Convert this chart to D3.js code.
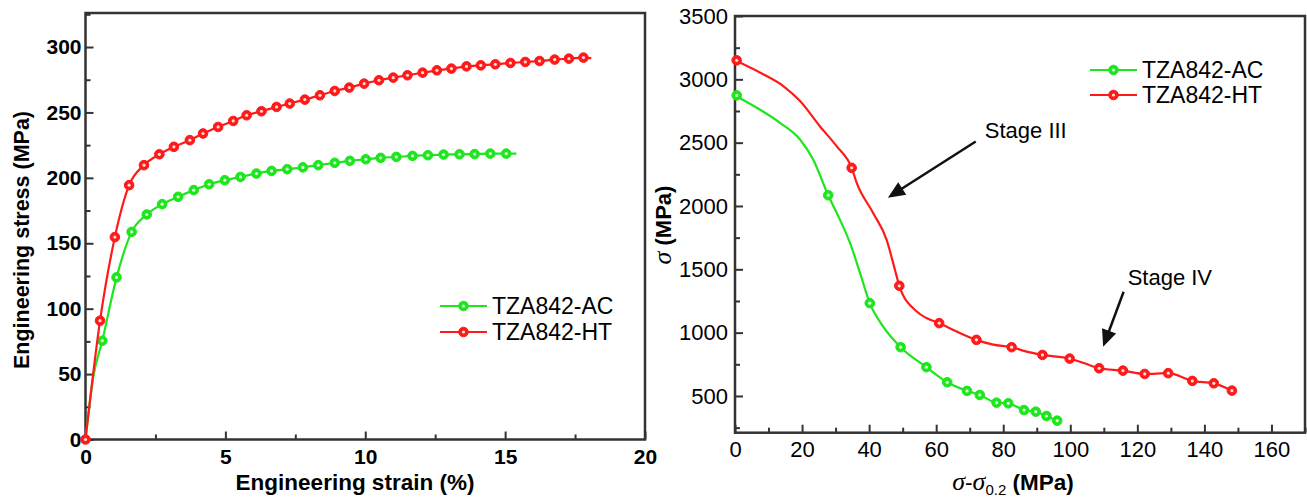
<!DOCTYPE html>
<html>
<head>
<meta charset="utf-8">
<script src="https://cdn.jsdelivr.net/npm/d3@7"></script>
<style>
  body { margin: 0; background: #fff; }
  text { font-family: "Liberation Sans", Arial, sans-serif; }
</style>
</head>
<body>
<script>
// ---- data: left panel (engineering stress-strain) ----
var acStrain = [0, 0.28, 0.6, 1.11, 1.65, 2.19, 2.74, 3.31, 3.87, 4.42, 4.98, 5.54, 6.11, 6.65, 7.21, 7.77, 8.32, 8.91, 9.45, 10.02, 10.55, 11.11, 11.69, 12.24, 12.8, 13.37, 13.91, 14.47, 15.04, 15.4];
var acStress = [0, 48, 75.5, 123.9, 158.7, 172, 179.9, 185.5, 190.6, 195.1, 198.2, 200.7, 203.3, 205.3, 206.6, 208, 209.7, 211.5, 213, 214.2, 215.3, 216, 216.8, 217.3, 217.8, 218, 218.2, 218.5, 218.5, 218.5];
var acMarked = [0, 0, 1, 1, 1, 1, 1, 1, 1, 1, 1, 1, 1, 1, 1, 1, 1, 1, 1, 1, 1, 1, 1, 1, 1, 1, 1, 1, 1, 0];

var htStrain = [0, 0.52, 1.05, 1.56, 2.09, 2.64, 3.16, 3.73, 4.2, 4.74, 5.28, 5.76, 6.29, 6.83, 7.3, 7.84, 8.38, 8.91, 9.43, 9.96, 10.49, 11.0, 11.51, 12.05, 12.56, 13.08, 13.62, 14.13, 14.65, 15.19, 15.72, 16.23, 16.77, 17.28, 17.8, 18.08];
var htStress = [0, 90.8, 154.7, 194.4, 209.7, 218, 223.7, 228.8, 233.9, 238.9, 243.5, 247.8, 250.9, 254.2, 256.8, 259.8, 263.1, 266.4, 269, 272, 274.6, 276.6, 278.4, 280.4, 282.2, 283.5, 285.2, 286, 286.8, 287.8, 288.6, 289.3, 290.4, 291.1, 291.9, 291.5];
var htMarked = [1, 1, 1, 1, 1, 1, 1, 1, 1, 1, 1, 1, 1, 1, 1, 1, 1, 1, 1, 1, 1, 1, 1, 1, 1, 1, 1, 1, 1, 1, 1, 1, 1, 1, 1, 0];

var leftXTicks = [0, 5, 10, 15, 20];
var leftXMinor = [2.5, 7.5, 12.5, 17.5];
var leftYTicks = [0, 50, 100, 150, 200, 250, 300];
var leftYMinor = [25, 75, 125, 175, 225, 275, 325];

// ---- data: right panel (sigma vs sigma - sigma0.2) ----
var acLine = [[0, 2873], [6.5, 2776], [13.4, 2657], [19.4, 2525], [23.3, 2367], [27.8, 2085], [31.3, 1892], [34.3, 1708], [37.3, 1470], [40.2, 1233], [44.2, 1048], [49.4, 885], [57.1, 727], [63.3, 608], [69.2, 540], [73.0, 508], [78.0, 447], [81.5, 442], [86.2, 389], [89.7, 376], [92.9, 342], [96.1, 305]];
var acMarkers = [[0.5, 2873], [27.8, 2085], [40.2, 1233], [49.4, 885], [57.1, 727], [63.3, 608], [69.2, 540], [73.0, 508], [78.0, 447], [81.5, 442], [86.2, 389], [89.7, 376], [92.9, 342], [96.1, 305]];

var htLine = [[0, 3150], [8.4, 3040], [14.4, 2947], [19.4, 2828], [25.3, 2630], [30.3, 2472], [34.8, 2301], [36.3, 2183], [41.2, 1945], [45.2, 1734], [47.7, 1497], [49.0, 1370], [54.2, 1167], [57.1, 1115], [60.9, 1075], [66.1, 1009], [72.0, 943], [77.0, 905], [82.5, 885], [87.0, 850], [91.7, 824], [99.8, 795], [104.0, 760], [108.6, 719], [115.7, 700], [122.2, 674], [129.2, 680], [136.4, 619], [142.8, 600], [148.2, 542]];
var htMarkers = [[0.5, 3150], [34.8, 2301], [49.0, 1370], [60.9, 1075], [72.0, 943], [82.5, 885], [91.7, 824], [99.8, 795], [108.6, 719], [115.7, 700], [122.2, 674], [129.2, 680], [136.4, 619], [142.8, 600], [148.2, 542]];

var rightXTicks = [0, 20, 40, 60, 80, 100, 120, 140, 160];
var rightXMinor = [10, 30, 50, 70, 90, 110, 130, 150, 170];
var rightYTicks = [500, 1000, 1500, 2000, 2500, 3000, 3500];
var rightYMinor = [250, 750, 1250, 1750, 2250, 2750, 3250];

// annotations, in data units: [textX, textY, fromX, fromY, toX, toY]
var stageLabels = ['Stage III', 'Stage IV'];
var stageArrows = [[74.5, 2533, 71.8, 2509, 45.6, 2066], [117.1, 1378, 115.9, 1323, 109.8, 888]];

var seriesNames = ['TZA842-AC', 'TZA842-HT'];
var green = '#1ee61e', red = '#ff1a1a';

var svg = d3.select('body').append('svg')
  .attr('width', 1307)
  .attr('height', 501);

// frame + inward ticks for one panel
function drawFrame(x, y, xt, xm, yt, ym, opts) {
  var g = svg.append('g');
  var x0 = x.range()[0], x1 = x.range()[1];
  var y0 = y.range()[0], y1 = y.range()[1];
  var fmt = d3.format('d');

  g.append('g').attr('transform', 'translate(0,' + y0 + ')')
    .call(d3.axisBottom(x).tickValues(xt).tickFormat(fmt).tickSizeInner(-8).tickSizeOuter(0).tickPadding(opts.xPad));
  g.append('g').attr('transform', 'translate(0,' + y0 + ')')
    .call(d3.axisBottom(x).tickValues(xm).tickSizeInner(-5).tickSizeOuter(0).tickFormat(''));
  g.append('g').attr('transform', 'translate(' + x0 + ',0)')
    .call(d3.axisLeft(y).tickValues(yt).tickFormat(fmt).tickSizeInner(-8).tickSizeOuter(0).tickPadding(opts.yPad));
  g.append('g').attr('transform', 'translate(' + x0 + ',0)')
    .call(d3.axisLeft(y).tickValues(ym).tickSizeInner(-5).tickSizeOuter(0).tickFormat(''));

  g.selectAll('.domain').remove();
  g.selectAll('.tick line').attr('stroke', '#333').attr('stroke-width', 2);
  g.selectAll('.tick text')
    .attr('fill', '#000')
    .attr('font-family', '"Liberation Sans", Arial, sans-serif')
    .attr('font-size', opts.fontSize)
    .attr('font-weight', opts.bold ? 'bold' : 'normal');

  g.append('rect')
    .attr('x', x0).attr('y', y1)
    .attr('width', x1 - x0).attr('height', y0 - y1)
    .attr('fill', 'none')
    .attr('stroke', '#333')
    .attr('stroke-width', 2.5);
  return g;
}

function drawSeries(g, pts, marks, color, x, y, curve) {
  var line = d3.line()
    .x(function(d) { return x(d[0]); })
    .y(function(d) { return y(d[1]); })
    .curve(curve);
  g.append('path')
    .attr('d', line(pts))
    .attr('fill', 'none')
    .attr('stroke', color)
    .attr('stroke-width', 2.2);
  drawMarkers(g, marks.map(function(d) { return [x(d[0]), y(d[1])]; }), color);
}

function drawMarkers(g, pix, color) {
  g.selectAll(null).data(pix).enter().append('circle')
    .attr('cx', function(d) { return d[0]; })
    .attr('cy', function(d) { return d[1]; })
    .attr('r', 4.8)
    .attr('fill', color)
    .attr('stroke', color)
    .attr('stroke-width', 1);
  g.selectAll(null).data(pix).enter().append('circle')
    .attr('cx', function(d) { return d[0]; })
    .attr('cy', function(d) { return d[1]; })
    .attr('r', 1.6)
    .attr('fill', '#fff')
    .attr('opacity', 0.85);
}

function drawLegend(x, y, color, label, fontSize) {
  svg.append('line')
    .attr('x1', x).attr('x2', x + 47)
    .attr('y1', y).attr('y2', y)
    .attr('stroke', color).attr('stroke-width', 2.2);
  drawMarkers(svg, [[x + 23.5, y]], color);
  svg.append('text')
    .attr('x', x + 52).attr('y', y + 8)
    .attr('font-size', fontSize)
    .text(label);
}

// ---------------- left panel ----------------
var lx = d3.scaleLinear().domain([0, 20]).range([85.5, 645]);
var ly = d3.scaleLinear().domain([0, 326]).range([439.5, 13]);
var lg = drawFrame(lx, ly, leftXTicks, leftXMinor, leftYTicks, leftYMinor,
  { xPad: 10, yPad: 4, fontSize: 21, bold: true });

var acPts = acStrain.map(function(v, i) { return [v, acStress[i]]; });
var htPts = htStrain.map(function(v, i) { return [v, htStress[i]]; });
drawSeries(lg, acPts, acPts.filter(function(d, i) { return acMarked[i]; }), green, lx, ly, d3.curveMonotoneX);
drawSeries(lg, htPts, htPts.filter(function(d, i) { return htMarked[i]; }), red, lx, ly, d3.curveMonotoneX);

svg.append('text')
  .attr('x', 355).attr('y', 490)
  .attr('text-anchor', 'middle')
  .attr('font-size', 22.5).attr('font-weight', 'bold')
  .text('Engineering strain (%)');
svg.append('text')
  .attr('transform', 'translate(29,240) rotate(-90)')
  .attr('text-anchor', 'middle')
  .attr('font-size', 21.5).attr('font-weight', 'bold')
  .text('Engineering stress (MPa)');

drawLegend(440, 306, green, seriesNames[0], 23);
drawLegend(440, 332, red, seriesNames[1], 23);

// ---------------- right panel ----------------
var rx = d3.scaleLinear().domain([0, 170]).range([735, 1305]);
var ry = d3.scaleLinear().domain([210, 3500]).range([432.7, 16]);
var rg = drawFrame(rx, ry, rightXTicks, rightXMinor, rightYTicks, rightYMinor,
  { xPad: 9, yPad: 7, fontSize: 22, bold: false });

drawSeries(rg, acLine, acMarkers, green, rx, ry, d3.curveMonotoneX);
drawSeries(rg, htLine, htMarkers, red, rx, ry, d3.curveMonotoneX);

var xl = svg.append('text')
  .attr('x', 1013).attr('y', 490)
  .attr('text-anchor', 'middle')
  .attr('font-size', 22.5).attr('font-weight', 'bold');
xl.append('tspan').attr('font-family', '"Liberation Serif", serif').attr('font-style', 'italic').attr('font-weight', 'normal').attr('font-size', 26).text('σ');
xl.append('tspan').attr('font-weight', 'normal').text('-');
xl.append('tspan').attr('font-family', '"Liberation Serif", serif').attr('font-style', 'italic').attr('font-weight', 'normal').attr('font-size', 26).text('σ');
xl.append('tspan').attr('font-size', 15).attr('font-weight', 'normal').attr('dy', 5).text('0.2');
xl.append('tspan').attr('dy', -5).text(' (MPa)');

var yl = svg.append('text')
  .attr('transform', 'translate(671,225) rotate(-90)')
  .attr('text-anchor', 'middle')
  .attr('font-size', 22).attr('font-weight', 'bold');
yl.append('tspan').attr('font-family', '"Liberation Serif", serif').attr('font-style', 'italic').attr('font-weight', 'normal').attr('font-size', 26).text('σ');
yl.append('tspan').text(' (MPa)');

drawLegend(1090, 70, green, seriesNames[0], 23);
drawLegend(1090, 95, red, seriesNames[1], 23);

// stage annotations with arrows
stageArrows.forEach(function(a, i) {
  svg.append('text')
    .attr('x', rx(a[0])).attr('y', ry(a[1]))
    .attr('font-size', 22)
    .text(stageLabels[i]);

  var sx = rx(a[2]), sy = ry(a[3]), ex = rx(a[4]), ey = ry(a[5]);
  var angle = Math.atan2(ey - sy, ex - sx);
  var headLen = 17, headW = 7.5;
  var bx = ex - Math.cos(angle) * headLen;
  var by = ey - Math.sin(angle) * headLen;
  svg.append('line')
    .attr('x1', sx).attr('y1', sy)
    .attr('x2', bx + Math.cos(angle) * 2).attr('y2', by + Math.sin(angle) * 2)
    .attr('stroke', '#111').attr('stroke-width', 2.5);
  var px = -Math.sin(angle) * headW, py = Math.cos(angle) * headW;
  svg.append('path')
    .attr('d', 'M' + ex + ',' + ey + 'L' + (bx + px) + ',' + (by + py) + 'L' + (bx - px) + ',' + (by - py) + 'Z')
    .attr('fill', '#111');
});
</script>
</body>
</html>
